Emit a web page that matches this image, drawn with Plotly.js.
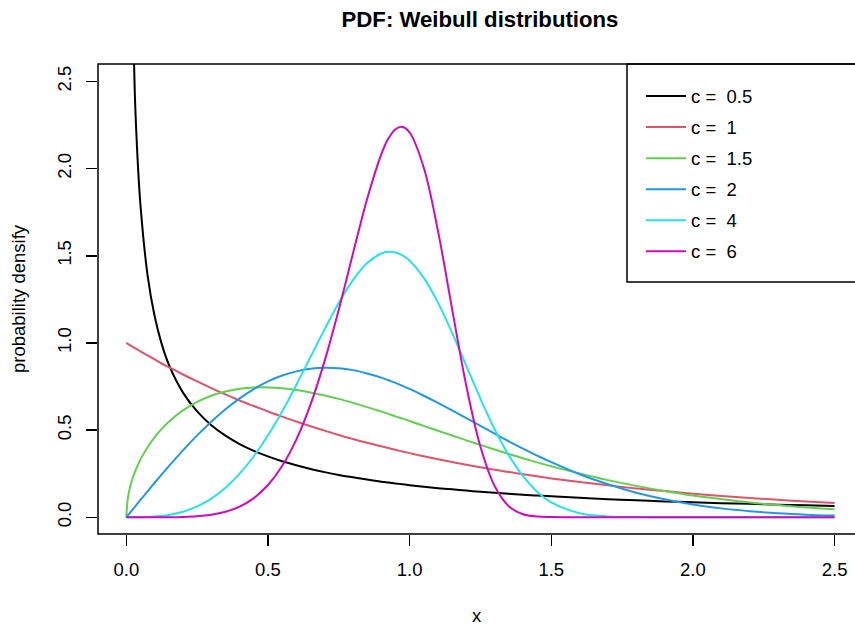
<!DOCTYPE html>
<html>
<head>
<meta charset="utf-8">
<script src="https://cdn.plot.ly/plotly-3.0.1.min.js"></script>
<style>html,body{margin:0;padding:0;background:#fff;} #chart{width:855px;height:626px;}</style>
</head>
<body>
<div id="chart"></div>
<script>
// x grid
const xs = [0,0.005,0.01,0.02,0.03,0.04,0.05,0.075,0.1,0.125,0.15,
  0.2,0.25,0.3,0.35,0.4,0.45,0.5,0.55,0.6,0.65,0.7,0.75,0.8,0.85,0.9,0.925,0.95,0.975,1.0,
  1.05,1.1,1.15,1.2,1.25,1.3,1.35,1.4,1.45,1.5,
  1.6,1.7,1.8,1.9,2.0,2.1,2.2,2.3,2.4,2.5];

// density values
const c05 = [null,6.588,4.524,3.069,2.428,2.047,1.788,1.388,1.153,0.993,0.876,
  0.715,0.607,0.528,0.468,0.420,0.381,0.349,0.321,0.298,0.277,0.259,0.243,0.229,0.216,0.204,0.199,0.194,0.189,0.184,
  0.175,0.167,0.160,0.153,0.146,0.140,0.135,0.129,0.125,0.120,
  0.112,0.104,0.097,0.091,0.086,0.081,0.077,0.072,0.069,0.065];
const c1 = [1,0.995,0.990,0.980,0.970,0.961,0.951,0.928,0.905,0.882,0.861,
  0.819,0.779,0.741,0.705,0.670,0.638,0.607,0.577,0.549,0.522,0.497,0.472,0.449,0.427,0.407,0.397,0.387,0.377,0.368,
  0.350,0.333,0.317,0.301,0.287,0.273,0.259,0.247,0.235,0.223,
  0.202,0.183,0.165,0.150,0.135,0.122,0.111,0.100,0.091,0.082];
const c15 = [0,0.106,0.150,0.212,0.259,0.298,0.332,0.402,0.460,0.507,0.548,
  0.613,0.662,0.697,0.721,0.737,0.744,0.745,0.740,0.730,0.716,0.699,0.679,0.656,0.632,0.606,0.593,0.579,0.566,0.552,
  0.524,0.496,0.469,0.441,0.415,0.389,0.363,0.339,0.315,0.293,
  0.251,0.213,0.180,0.151,0.125,0.104,0.085,0.070,0.056,0.046];
const c2 = [0,0.010,0.020,0.040,0.060,0.080,0.100,0.149,0.198,0.246,0.293,
  0.384,0.470,0.548,0.619,0.682,0.735,0.779,0.813,0.837,0.852,0.858,0.855,0.844,0.825,0.801,0.786,0.771,0.754,0.736,
  0.697,0.656,0.613,0.569,0.524,0.480,0.436,0.394,0.354,0.316,
  0.247,0.189,0.141,0.103,0.073,0.051,0.035,0.023,0.015,0.010];
const c4 = [0,0,0,0,0.0001,0.0003,0.0005,0.0017,0.004,0.0078,0.0135,
  0.032,0.062,0.107,0.169,0.250,0.350,0.470,0.607,0.759,0.919,1.079,1.230,1.360,1.458,1.513,1.523,1.519,1.502,1.472,
  1.373,1.231,1.058,0.869,0.680,0.505,0.355,0.236,0.147,0.086,
  0.023,0.005,0.001,0,0,0,0,0,0,0];
const c6 = [0,0,0,0,0,0,0,0,0.0001,0.0002,0.0005,
  0.002,0.006,0.015,0.032,0.061,0.110,0.185,0.294,0.445,0.646,0.897,1.192,1.513,1.826,2.082,2.172,2.226,2.239,2.207,
  2.005,1.643,1.194,0.754,0.404,0.179,0.063,0.017,0.004,0.001,
  0,0,0,0,0,0,0,0,0,0];

const shapeNames = ['0.5','1','1.5','2','4','6'];
const series = [c05,c1,c15,c2,c4,c6];
const colors = ['#000000','#DF536B','#61D04F','#2297E6','#28E2E5','#CD0BBC'];
const tickVals = [0,0.5,1.0,1.5,2.0,2.5];
const tickText = ['0.0','0.5','1.0','1.5','2.0','2.5'];

const FONT = 'Liberation Sans, Arial, Helvetica, sans-serif';
const FS = 18.5;

const traces = series.map((ys,i)=>({
  x: xs, y: ys, type:'scatter', mode:'lines',
  name: 'c =\u00a0\u00a0' + shapeNames[i],
  legendgroup: 'g'+i,
  line:{color:colors[i], width:2, shape:'spline', smoothing:1},
  connectgaps:false,
  hoverinfo:'skip'
}));

const layout = {
  width:855, height:626,
  margin:{l:98, r:0, t:64, b:92, autoexpand:false},
  paper_bgcolor:'#fff', plot_bgcolor:'#fff',
  font:{family:FONT, size:FS, color:'#000'},
  title:{text:'<b>PDF: Weibull distributions</b>', font:{family:FONT, size:22.2, color:'#000'},
    x:(480-98)/757, xref:'paper', xanchor:'center', y:1-19.5/626, yref:'container', yanchor:'middle'},
  xaxis:{range:[-0.1, -0.1+757/283.3], tickvals:tickVals, ticktext:tickText,
    ticks:'outside', ticklen:11, tickwidth:1.5, tickcolor:'#000', ticklabelstandoff:8,
    showline:false, showgrid:false, zeroline:false,
    tickfont:{family:FONT,size:FS,color:'#000'},
    title:{text:'x', font:{family:FONT,size:FS,color:'#000'}, standoff:30}},
  yaxis:{range:[-0.096, 2.6], tickvals:tickVals, ticktext:tickText, tickangle:-90,
    ticks:'outside', ticklen:11, tickwidth:1.5, tickcolor:'#000', ticklabelstandoff:8,
    showline:false, showgrid:false, zeroline:false,
    tickfont:{family:FONT,size:FS,color:'#000'},
    title:{text:'probability densify', font:{family:FONT,size:FS,color:'#000'}, standoff:23}},
  shapes:[
    {type:'rect', xref:'paper', yref:'paper', x0:0, x1:1.05, y0:0, y1:1, line:{color:'#000', width:1.5}, layer:'above'},
    {type:'rect', xref:'paper', yref:'paper', x0:(627-98)/757, x1:1.05, y0:(534-282)/470, y1:1, line:{color:'#000', width:1.5}, fillcolor:'rgba(0,0,0,0)', layer:'above'}
  ],
  showlegend:true,
  legend:{x:(641-98)/757, xanchor:'left', xref:'paper', y:1-(77.5-64)/470, yanchor:'top', yref:'paper',
    bgcolor:'rgba(0,0,0,0)', borderwidth:0, itemwidth:40, tracegroupgap:4,
    font:{family:FONT,size:FS,color:'#000'}}
};

Plotly.newPlot('chart', traces, layout, {staticPlot:true, displayModeBar:false});
</script>
</body>
</html>
